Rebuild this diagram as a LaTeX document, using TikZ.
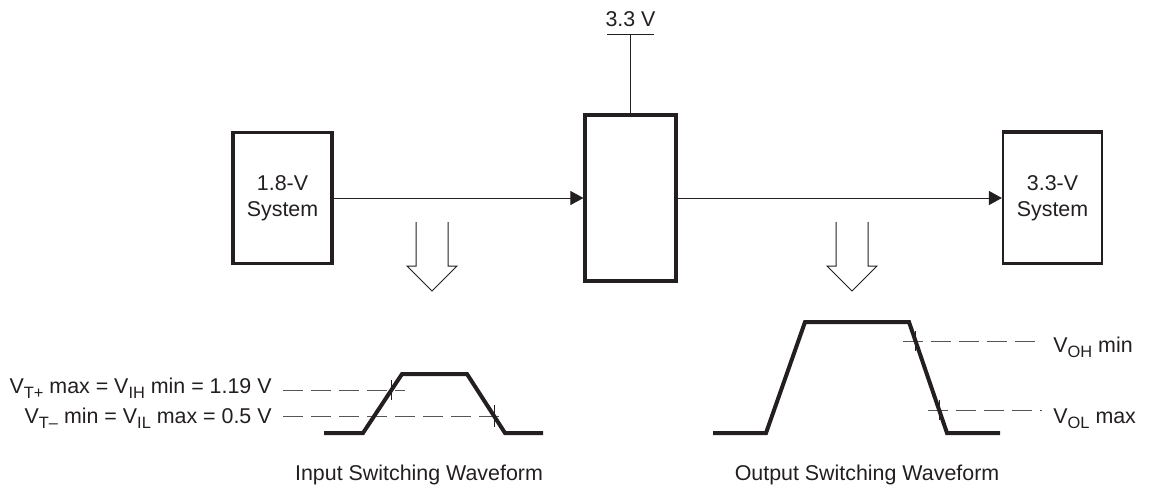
\documentclass[tikz,border=0pt]{standalone}
\usepackage{fontspec}
\setmainfont{Liberation Sans}
\usetikzlibrary{arrows.meta}
\definecolor{inkc}{HTML}{231F20}
\definecolor{dashc}{HTML}{555555}
\newcommand{\vsub}[1]{\raisebox{-0.45ex}{\fontsize{8.2}{9}\selectfont #1}}

\begin{document}
\begin{tikzpicture}[x=0.5pt,y=-0.5pt,
		every node/.style={text=inkc,font=\fontsize{10.7}{13}\selectfont},
		sysbox/.style={draw=inkc,line width=1.6pt,minimum width=49.5pt,minimum height=65.5pt,inner sep=0pt,align=center},
		sig/.style={draw=inkc,line width=0.5pt,-{Triangle[length=6.5pt,width=7pt]}},
		wave/.style={draw=inkc,line width=2pt},
		threshold/.style={draw=dashc,line width=0.5pt,dash pattern=on 10pt off 4pt},
		crossmark/.style={draw=inkc,line width=0.5pt},
		lbl/.style={inner sep=0pt}]
		\useasboundingbox (0,0) rectangle (1149,489);
		%draw boxes
		\node[sysbox] (sys18) at (282.5,198) {1.8-V\\System};
		\node[sysbox,minimum width=45.5pt,minimum height=83pt] (shifter) at (630.5,198) {};
		\node[sysbox,line width=1.1pt] (sys33) at (1052.5,198) {3.3-V\\System};
		\draw[draw=inkc,line width=1.6pt] (sys33.north west) -- (sys33.north east);
		%draw supply
		\coordinate (vcc) at (630.5,34);
		\coordinate (vccl) at (607,34);
		\coordinate (vccr) at (654,34);
		\node[lbl,anchor=base] (vcclabel) at (630.5,26) {3.3 V};
		\draw[draw=inkc,line width=0.5pt] (vccl) -- (vccr);
		\draw[draw=inkc,line width=0.5pt] (shifter.north) -- (vcc);
		%draw signals
		\draw[sig] (sys18) -- (shifter);
		\draw[sig] (shifter) -- (sys33);
		%draw hollow arrows
		\foreach \ax in {432,852}
			\draw[draw=inkc,line width=0.5pt] (\ax-16,222) -- (\ax-16,266) -- (\ax-25,266) -- (\ax,291)
				-- (\ax+25,266) -- (\ax+16,266) -- (\ax+16,222);
		%draw waveforms
		\draw[threshold] (283,390) -- (405,390);
		\draw[threshold] (283,416) -- (505,416);
		\draw[threshold] (903,341) -- (1042,341);
		\draw[threshold] (928,410) -- (1042,410);
		\draw[wave] (324,433) -- (363,433) -- (402,374) -- (467,374) -- (505,433) -- (543,433);
		\draw[wave] (713,433) -- (766,433) -- (805,322) -- (909,322) -- (947,433) -- (1000,433);
		\draw[crossmark] (391,380) -- (391,400);
		\draw[crossmark] (494,405) -- (494,427);
		\draw[crossmark] (915,331) -- (915,351);
		\draw[crossmark] (939,400) -- (939,420);
		%draw labels
		\node[lbl,anchor=base east] (vtplus) at (272,393) {V\vsub{T+} max = V\vsub{IH} min = 1.19 V};
		\node[lbl,anchor=base east] (vtminus) at (272,423) {V\vsub{T–} min = V\vsub{IL} max = 0.5 V};
		\node[lbl,anchor=base west] (voh) at (1053,352) {V\vsub{OH} min};
		\node[lbl,anchor=base west] (vol) at (1053,423) {V\vsub{OL} max};
		\node[lbl,anchor=base] (intitle) at (419,480) {Input Switching Waveform};
		\node[lbl,anchor=base] (outtitle) at (867,480) {Output Switching Waveform};
\end{tikzpicture}
\end{document}
